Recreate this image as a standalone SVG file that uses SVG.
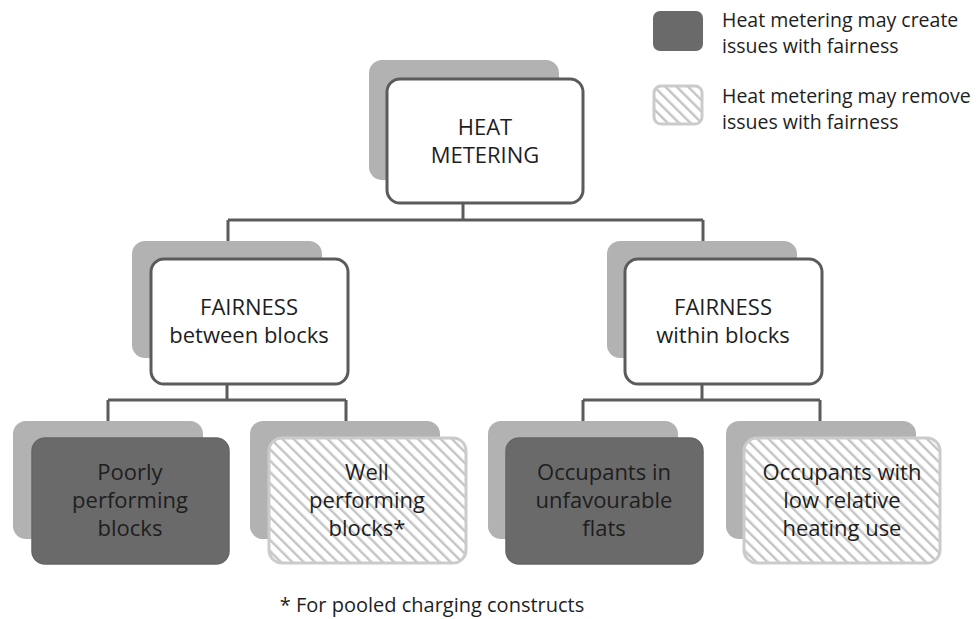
<svg xmlns="http://www.w3.org/2000/svg" width="978" height="619" viewBox="0 0 978 619">
<defs>
<pattern id="hatch" patternUnits="userSpaceOnUse" width="8" height="8" patternTransform="rotate(-45)">
<rect width="8" height="8" fill="#ffffff"/>
<rect x="0" y="0" width="2.4" height="8" fill="#c4c4c4"/>
</pattern>
</defs>
<style>
text{font-family:"Open Sans","Liberation Sans",sans-serif;fill:#1e1e1e;text-anchor:middle}
.shadow{fill:#b2b2b2}
.white{fill:#ffffff;stroke:#5b5b5b;stroke-width:3}
.dark{fill:#6a6a6a;stroke:#666;stroke-width:1.5}
.hatched{fill:url(#hatch);stroke:#cbcbcb;stroke-width:3}
.conn{fill:none;stroke:#5b5b5b;stroke-width:3}
.t{font-size:22px}
.lg{font-size:19.5px;text-anchor:start}
</style>
<rect width="978" height="619" fill="#ffffff"/>
<g id="connectors">
<path class="conn" d="M463 203 V220 M228 220 H703 M228 220 V241 M703 220 V241"/>
<path class="conn" d="M227 384 V400 M108 400 H346 M108 400 V421 M346 400 V421"/>
<path class="conn" d="M702 384 V400 M583 400 H820 M583 400 V421 M820 400 V421"/>
</g>
<g id="node-heat-metering">
<rect class="shadow" x="369" y="60" width="190" height="120" rx="13"/>
<rect class="white" x="387" y="79" width="196" height="124" rx="13"/>
<text class="t" x="485" y="135">HEAT</text>
<text class="t" x="485" y="163">METERING</text>
</g>
<g id="node-between">
<rect class="shadow" x="132" y="241" width="190" height="117" rx="13"/>
<rect class="white" x="151" y="259" width="197" height="125" rx="13"/>
<text class="t" x="249" y="315">FAIRNESS</text>
<text class="t" x="249" y="343">between blocks</text>
</g>
<g id="node-within">
<rect class="shadow" x="607" y="241" width="190" height="117" rx="13"/>
<rect class="white" x="625" y="259" width="197" height="125" rx="13"/>
<text class="t" x="723" y="315">FAIRNESS</text>
<text class="t" x="723" y="343">within blocks</text>
</g>
<g id="node-poorly">
<rect class="shadow" x="13" y="421" width="190" height="118" rx="13"/>
<rect class="dark" x="32" y="438" width="197" height="126" rx="13"/>
<text class="t" x="130" y="480">Poorly</text>
<text class="t" x="130" y="508">performing</text>
<text class="t" x="130" y="536">blocks</text>
</g>
<g id="node-well">
<rect class="shadow" x="250" y="421" width="190" height="118" rx="13"/>
<rect class="hatched" x="269" y="438" width="197" height="125" rx="13"/>
<text class="t" x="367" y="480">Well</text>
<text class="t" x="367" y="508">performing</text>
<text class="t" x="367" y="536">blocks*</text>
</g>
<g id="node-unfavourable">
<rect class="shadow" x="488" y="421" width="190" height="118" rx="13"/>
<rect class="dark" x="506" y="438" width="197" height="126" rx="13"/>
<text class="t" x="604" y="480">Occupants in</text>
<text class="t" x="604" y="508">unfavourable</text>
<text class="t" x="604" y="536">flats</text>
</g>
<g id="node-low-use">
<rect class="shadow" x="726" y="421" width="190" height="118" rx="13"/>
<rect class="hatched" x="744" y="438" width="196" height="125" rx="13"/>
<text class="t" x="842" y="480">Occupants with</text>
<text class="t" x="842" y="508">low relative</text>
<text class="t" x="842" y="536">heating use</text>
</g>
<g id="legend">
<rect x="653" y="11" width="50" height="40" rx="7" fill="#6a6a6a"/>
<text class="lg" x="722" y="27">Heat metering may create</text>
<text class="lg" x="722" y="53">issues with fairness</text>
<rect x="654" y="86" width="48" height="38" rx="7" fill="url(#hatch)" stroke="#cbcbcb" stroke-width="3"/>
<text class="lg" x="722" y="103">Heat metering may remove</text>
<text class="lg" x="722" y="129">issues with fairness</text>
</g>
<g id="footnote">
<text x="432" y="612" style="font-size:20px">* For pooled charging constructs</text>
</g>
</svg>
